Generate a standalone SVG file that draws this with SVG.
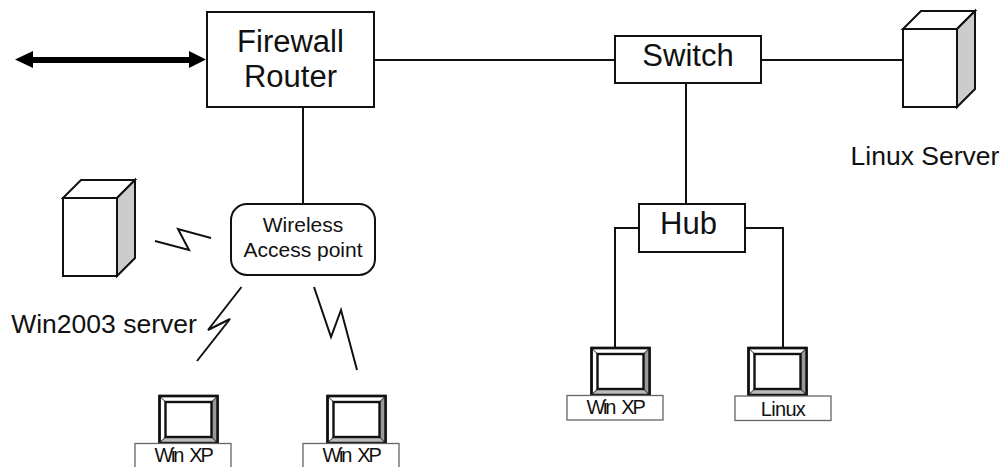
<svg xmlns="http://www.w3.org/2000/svg" width="1006" height="467" viewBox="0 0 1006 467">
<style>
text{font-family:"Liberation Sans",Arial,sans-serif;fill:#111;text-anchor:middle}
.b{fill:#fff;stroke:#111;stroke-width:2}
.l{fill:none;stroke:#111;stroke-width:2}
.g{fill:#ccc;stroke:#111;stroke-width:2}
.lab{fill:#fff;stroke:#666;stroke-width:1.3}
.t{stroke:#111;stroke-width:2.4;fill:#fff}
.n{fill:none;stroke:#111;stroke-width:1}
.dk{fill:#999;stroke:none}
.lg{fill:#bbb;stroke:none}
.big{font-size:31px}
.mid{font-size:26.5px}
.sm{font-size:21px}
.s{font-size:20px;letter-spacing:-2.3px;word-spacing:4px}
</style>
<defs>
<g id="tower">
<path class="b" d="M0 18L18 0H72L54 18Z"/>
<path class="g" d="M54 18L72 0V78L54 96Z"/>
<rect class="b" x="0" y="18" width="54" height="78"/>
</g>
<g id="pc">
<rect class="t" x="0" y="0" width="58" height="47"/>
<path class="dk" d="M52 6L58 0V47L52 41Z"/>
<path class="lg" d="M6 41H52L58 47H0Z"/>
<rect class="t" x="6" y="6" width="46" height="35"/>
<rect x="0" y="0" width="58" height="47" fill="none" stroke="#111" stroke-width="2.4"/>
<path class="n" d="M0 0L6 6M58 0L52 6M0 47L6 41M58 47L52 41"/>
</g>
</defs>
<g id="connectors">
<path class="l" d="M374 60H615M761 60H903M686 83V204M303 107V204M639 228H615V347M734 228H783V347"/>
<path class="l" d="M155 241L189 250L178 229L211 238"/>
<path class="l" d="M241.500 287L208 330L230 319L197 361"/>
<path class="l" d="M314 287L331 337L341 310L357 370"/>
<path d="M15 59.500L33 51V57H189V51L206 59.500L189 68V63H33V68Z" fill="#000"/>
</g>
<g id="firewall"><rect class="b" x="207" y="12" width="167" height="95"/><text class="big" x="290.500" y="52">Firewall</text><text class="big" x="290.500" y="87">Router</text></g>
<g id="switch"><rect class="b" x="615" y="36" width="146" height="47"/><text class="big" x="688" y="66">Switch</text></g>
<g id="hub"><rect class="b" x="639" y="204" width="106" height="48"/><text class="big" x="688.500" y="234">Hub</text></g>
<g id="access-point"><rect class="b" x="231" y="204" width="144" height="71" rx="16"/><text class="sm" x="303" y="232">Wireless</text><text class="sm" x="303" y="257">Access point</text></g>
<g id="linux-server"><use href="#tower" x="903" y="11"/><text class="mid" x="925" y="165">Linux Server</text></g>
<g id="win2003-server"><use href="#tower" x="63" y="180"/><text class="mid" x="104" y="333">Win2003 server</text></g>
<g id="pc1"><use href="#pc" x="159.500" y="396"/><rect class="lab" x="135" y="443.500" width="96" height="30"/><text class="s" x="183" y="461.500">Win XP</text></g>
<g id="pc2"><use href="#pc" x="327.500" y="396"/><rect class="lab" x="303" y="443.500" width="96" height="30"/><text class="s" x="351" y="461.500">Win XP</text></g>
<g id="pc3"><use href="#pc" x="591.500" y="348"/><rect class="lab" x="567" y="395.500" width="96" height="24.500"/><text class="s" x="615" y="414">Win XP</text></g>
<g id="pc4"><use href="#pc" x="748.500" y="348"/><rect class="lab" x="735" y="396" width="96" height="24.500"/><text class="s" style="letter-spacing:-0.7px" x="783" y="415.500">Linux</text></g>
</svg>
